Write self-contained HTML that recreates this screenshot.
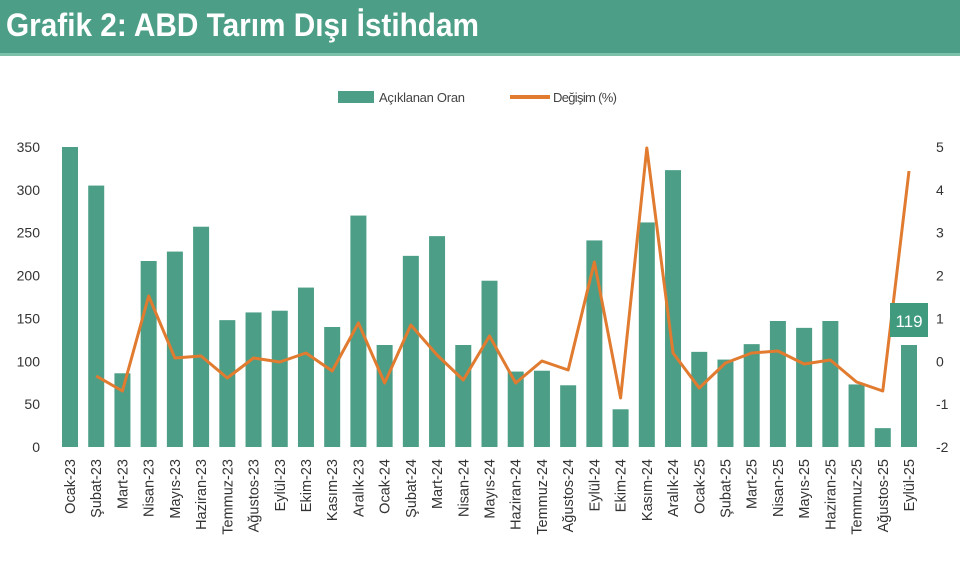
<!DOCTYPE html>
<html><head><meta charset="utf-8"><style>
body{margin:0;width:960px;height:583px;background:#fff;overflow:hidden;font-family:"Liberation Sans",sans-serif}
#hd{position:absolute;left:0;top:0;width:960px;height:53px;background:#4c9f86;border-bottom:3px solid #7cc0aa}
#hd span{position:absolute;left:6px;top:7px;font-size:32px;font-weight:bold;color:#fff;transform:scaleX(0.93);transform-origin:left top;white-space:nowrap}
svg{position:absolute;left:0;top:0}
</style></head><body>
<div id="hd"><span>Grafik 2: ABD Tarım Dışı İstihdam</span></div>
<svg id="s" width="960" height="583" font-family="Liberation Sans, sans-serif"></svg>
<script>
const names=["Ocak-23","Şubat-23","Mart-23","Nisan-23","Mayıs-23","Haziran-23","Temmuz-23","Ağustos-23","Eylül-23","Ekim-23","Kasım-23","Aralık-23","Ocak-24","Şubat-24","Mart-24","Nisan-24","Mayıs-24","Haziran-24","Temmuz-24","Ağustos-24","Eylül-24","Ekim-24","Kasım-24","Aralık-24","Ocak-25","Şubat-25","Mart-25","Nisan-25","Mayıs-25","Haziran-25","Temmuz-25","Ağustos-25","Eylül-25"];
const v=[350,305,86,217,228,257,148,157,159,186,140,270,119,223,246,119,194,88,89,72,241,44,262,323,111,102,120,147,139,147,73,22,119];
const ly=[null,376,391,296,358,356,378,358,362,353,371,323,383,325,355,380,336,383,361,370,262,398,148,353,388,363,353,351,364,360,382,391,171];
let h='';
h+='<rect x="338" y="91" width="36" height="12" fill="#4c9f86"/><text x="379" y="102" font-size="13" fill="#444" textLength="86">Açıklanan Oran</text>';
h+='<rect x="510" y="95" width="40" height="4" fill="#e07b30"/><text x="553" y="102" font-size="13" fill="#444" textLength="64">Değişim (%)</text>';
for(let i=0;i<=7;i++){let y=447-i*300/7;
h+=`<text x="40" y="${y+5}" font-size="14" fill="#333" text-anchor="end">${i*50}</text>`;
h+=`<text x="936" y="${y+5}" font-size="14" fill="#333">${i-2}</text>`;}
const x0=70,dx=(909-70)/32;
v.forEach((a,i)=>{let x=x0+i*dx,hh=a*300/350;
h+=`<rect x="${x-8}" y="${447-hh}" width="16" height="${hh}" fill="#4c9f86"/>`;
h+=`<text transform="translate(${x+5},459) rotate(-90)" font-size="14.5" fill="#333" text-anchor="end">${names[i]}</text>`;});
let p=[];ly.forEach((y,i)=>{if(y!=null)p.push((x0+i*dx)+','+y)});
h+=`<polyline points="${p.join(' ')}" fill="none" stroke="#e07b30" stroke-width="3" stroke-linejoin="round"/>`;
h+='<rect x="890" y="303" width="38" height="34" fill="#3f9a7e"/><text x="909" y="327" font-size="17" fill="#fff" text-anchor="middle">119</text>';
document.getElementById('s').innerHTML=h;
</script>
</body></html>
